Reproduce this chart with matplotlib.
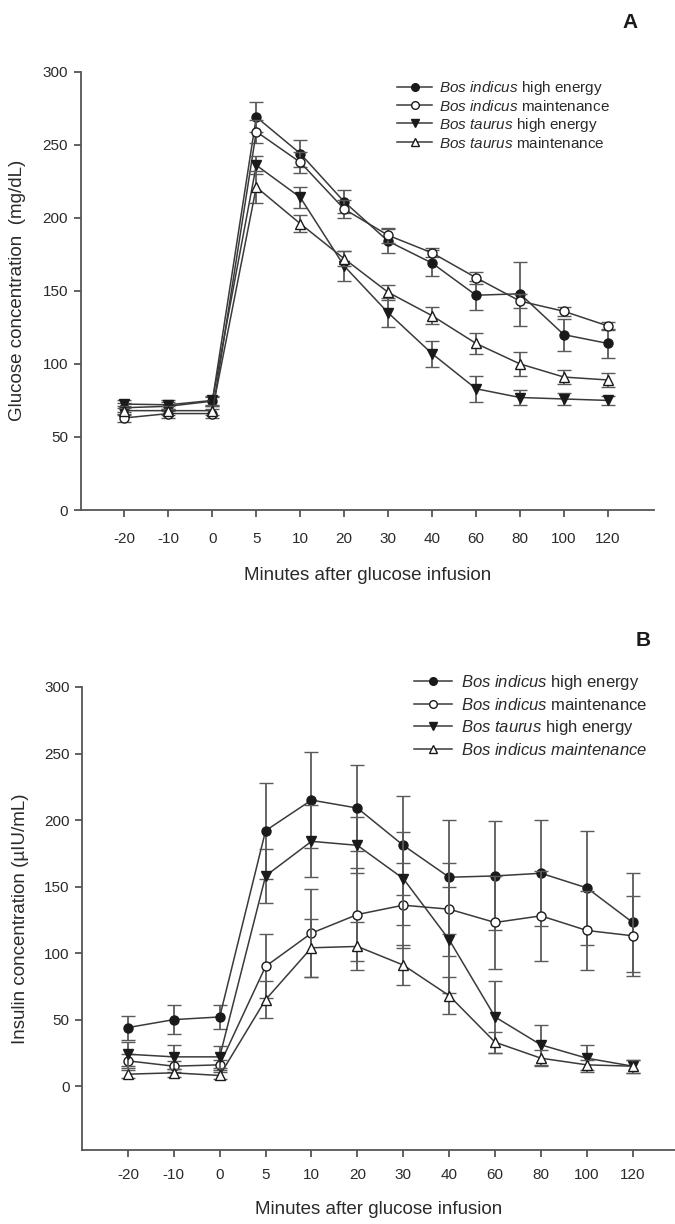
import matplotlib
matplotlib.use("Agg")
import matplotlib.pyplot as plt
from matplotlib.lines import Line2D
import numpy as np

plt.rcParams['font.family'] = ['Liberation Sans', 'DejaVu Sans']
plt.rcParams['mathtext.fontset'] = 'custom'
plt.rcParams['mathtext.it'] = 'Liberation Sans:italic'
plt.rcParams['mathtext.rm'] = 'Liberation Sans'

# ---------------- data ----------------
time_labels = ["-20", "-10", "0", "5", "10", "20", "30", "40", "60", "80", "100", "120"]

# Panel A: glucose (mg/dL)
glu_ind_high = [70, 71, 74.5, 269, 244, 211, 184, 169, 147, 148, 120, 114]
glu_ind_high_se = [3, 3, 3, 10, 9, 8, 8, 9, 10, 22, 11, 10]
glu_ind_maint = [63, 66, 66, 259, 238, 206, 188, 176, 159, 143, 136, 126]
glu_ind_maint_se = [3, 3, 3, 8, 7, 6, 5, 3, 4, 5, 3, 3]
glu_tau_high = [72.5, 72, 75, 236, 214, 167, 135, 107, 83, 77, 76, 75]
glu_tau_high_se = [3, 3, 3, 6, 7, 10, 10, 9, 9, 5, 4, 3]
glu_tau_maint = [68, 68, 68, 221, 196, 172, 149, 133, 114, 100, 91, 89]
glu_tau_maint_se = [3, 3, 3, 11, 6, 5, 5, 6, 7, 8, 5, 5]

# Panel B: insulin (uIU/mL)
ins_ind_high = [44, 50, 52, 192, 215, 209, 181, 157, 158, 160, 149, 123]
ins_ind_high_se = [9, 11, 9, 36, 36, 32, 37, 43, 41, 40, 43, 37]
ins_ind_maint = [19, 15, 16, 90, 115, 129, 136, 133, 123, 128, 117, 113]
ins_ind_maint_se = [5, 4, 4, 24, 33, 35, 32, 35, 35, 34, 30, 30]
ins_tau_high = [24, 22, 22, 158, 184, 181, 156, 110, 52, 31, 21, 15]
ins_tau_high_se = [9, 9, 8, 20, 27, 21, 35, 40, 27, 15, 10, 5]
ins_tau_maint = [9, 10, 8, 65, 104, 105, 91, 68, 33, 21, 16, 15]
ins_tau_maint_se = [3, 3, 3, 14, 22, 18, 15, 14, 8, 6, 4, 5]

labels_A = [r"$\it{Bos\ indicus}$ high energy",
            r"$\it{Bos\ indicus}$ maintenance",
            r"$\it{Bos\ taurus}$ high energy",
            r"$\it{Bos\ taurus}$ maintenance"]
labels_B = [r"$\it{Bos\ indicus}$ high energy",
            r"$\it{Bos\ indicus}$ maintenance",
            r"$\it{Bos\ taurus}$ high energy",
            r"$\it{Bos\ indicus\ maintenance}$"]

# ---------------- figure ----------------
W, H = 675, 1224
fig = plt.figure(figsize=(W / 100, H / 100), dpi=100)

def fx(px):
    return px / W

def fy(py):
    return 1 - py / H

axA = fig.add_axes([fx(80.5), fy(510), fx(654) - fx(80.5), fy(71.7) - fy(510)])
axB = fig.add_axes([fx(82), fy(1150), fx(675) - fx(82), fy(687) - fy(1150)])

styles = [
    dict(marker='o', mfc='#1a1a1a'),
    dict(marker='o', mfc='white'),
    dict(marker='v', mfc='#1a1a1a'),
    dict(marker='^', mfc='white'),
]

spine_col = '#555555'
line_col = '#3a3a3a'
err_col = '#5a5a5a'
text_col = '#2a2a2a'

def draw(ax, series, ses, labels, ylo, xright, legend_kw, xpad):
    x = np.arange(len(time_labels))
    for s, (y, e) in enumerate(zip(series, ses)):
        st = styles[s]
        ax.errorbar(x, y, yerr=e, marker=st['marker'], mfc=st['mfc'], mec='#1a1a1a',
                    mew=1.0, ms=7 if st['marker'] != 'o' else 6.5, color=line_col, lw=1.1,
                    ecolor=err_col, elinewidth=1.3, capsize=5, capthick=1.3,
                    zorder=3 + s)
    handles = [Line2D([], [], color=line_col, lw=1.1, marker=st['marker'], mfc=st['mfc'],
                      mec='#1a1a1a', mew=1.0, ms=5.5) for st in styles]
    ax.set_xlim(-1.0, x[-1] + xright)
    ax.set_ylim(ylo, 300)
    ax.set_yticks(np.arange(0, 301, 50))
    ax.set_xticks(x)
    ax.set_xticklabels(time_labels)
    for sp in ['top', 'right']:
        ax.spines[sp].set_visible(False)
    for sp in ['left', 'bottom']:
        ax.spines[sp].set_color(spine_col)
        ax.spines[sp].set_linewidth(1.3)
    ax.tick_params(direction='out', length=5, width=1.3, color=spine_col,
                   labelsize=11, labelcolor=text_col, pad=4)
    ax.tick_params(axis='x', pad=xpad)
    leg = ax.legend(handles, labels, frameon=False, **legend_kw)
    for t in leg.get_texts():
        t.set_color(text_col)
    return ax

draw(axA, [glu_ind_high, glu_ind_maint, glu_tau_high, glu_tau_maint],
     [glu_ind_high_se, glu_ind_maint_se, glu_tau_high_se, glu_tau_maint_se],
     labels_A, 0, 1.05,
     dict(loc='upper left', bbox_to_anchor=(fx(397), fy(79)), bbox_transform=fig.transFigure,
          fontsize=11, handlelength=2.3, handletextpad=0.45, labelspacing=0.12,
          borderpad=0, borderaxespad=0), 11)

draw(axB, [ins_ind_high, ins_ind_maint, ins_tau_high, ins_tau_maint],
     [ins_ind_high_se, ins_ind_maint_se, ins_tau_high_se, ins_tau_maint_se],
     labels_B, -48, 0.92,
     dict(loc='upper left', bbox_to_anchor=(fx(414), fy(673)), bbox_transform=fig.transFigure,
          fontsize=12, handlelength=2.3, handletextpad=0.55, labelspacing=0.3,
          borderpad=0, borderaxespad=0), 8)

axA.set_xlabel("Minutes after glucose infusion", fontsize=13.5, color=text_col, labelpad=15)
axA.set_ylabel("Glucose concentration  (mg/dL)", fontsize=13.5, color=text_col, labelpad=12)
axB.set_xlabel("Minutes after glucose infusion", fontsize=13.5, color=text_col, labelpad=14)
axB.set_ylabel("Insulin concentration (\u00b5IU/mL)", fontsize=13.5, color=text_col, labelpad=11)

fig.text(fx(630), fy(22), "A", fontsize=15, fontweight='bold', ha='center', va='center',
         color='#1a1a1a')
fig.text(fx(643), fy(640), "B", fontsize=15, fontweight='bold', ha='center', va='center',
         color='#1a1a1a')

fig.savefig("out.png", dpi=100)
